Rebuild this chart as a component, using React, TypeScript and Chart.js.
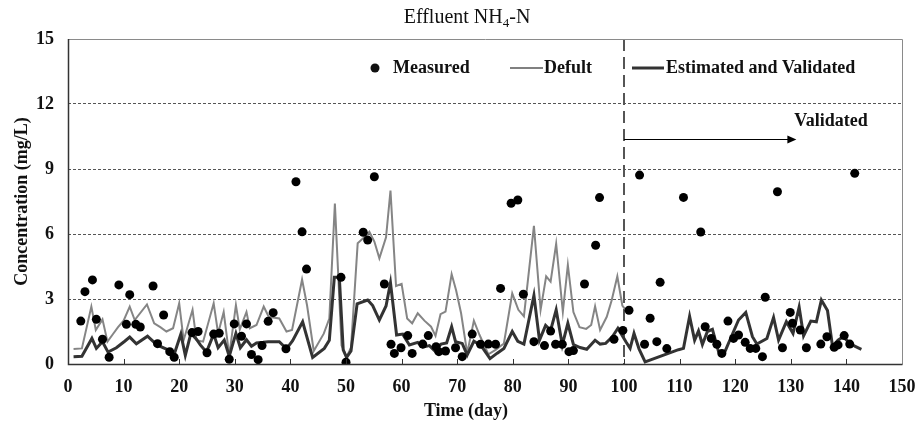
import React, { useEffect, useRef } from 'react';
import { Chart, registerables } from 'chart.js';

Chart.register(...registerables);

const defaultDays = [1, 2.5, 4.2, 5, 6.2, 7.1, 8, 9, 10, 11.1, 12, 14.2, 15.5, 16.6, 17.7, 18.9, 20, 20.8, 22.4, 23.1, 24.3, 26.2, 27, 28, 29, 30.2, 30.9, 32.1, 32.7, 33.9, 35.2, 36.1, 38, 39.3, 40.3, 42.1, 43, 44.2, 46, 47, 48, 49.2, 50.1, 50.9, 52.1, 53.5, 54.2, 55.1, 56, 57.2, 58, 59, 60, 61, 61.9, 62.9, 64.1, 65.3, 66.1, 67, 67.9, 69, 69.8, 70.7, 71.8, 73, 74, 75.6, 76.9, 78.4, 79.9, 81, 82, 83.8, 85, 86, 86.8, 87.8, 89, 89.9, 90.9, 92, 93.2, 94.1, 94.8, 95.7, 96.9, 97.8, 98.8, 99.7, 100.3];
const defaultValues = [0.69, 0.72, 2.65, 1.57, 2.06, 1.03, 1.35, 1.7, 2.0, 2.65, 2.03, 2.75, 1.88, 1.7, 1.5, 1.65, 2.8, 1.1, 2.5, 1.1, 1.03, 2.8, 1.41, 2.4, 0.4, 2.72, 1.6, 2.4, 1.65, 1.8, 2.65, 2.18, 2.1, 1.5, 1.57, 3.9, 2.7, 0.6, 1.4, 2.1, 7.4, 0.85, 0.34, 0.75, 5.57, 5.9, 6.1, 5.65, 4.88, 5.85, 8.0, 3.6, 3.7, 2.1, 1.88, 2.34, 2.0, 1.72, 1.3, 2.3, 2.42, 4.15, 3.4, 2.34, 0.5, 2.0, 1.35, 0.45, 0.65, 0.95, 3.26, 2.5, 2.2, 6.38, 2.5, 4.05, 3.8, 5.55, 2.4, 4.57, 2.4, 1.7, 1.62, 1.8, 2.66, 1.57, 2.18, 2.95, 4.05, 2.7, 2.5];

const estimatedDays = [1, 2.5, 4.3, 5.1, 6.2, 7.2, 8.7, 10.2, 11.1, 12.3, 14.3, 16, 18, 19.1, 20.3, 21.1, 22.1, 23.1, 23.8, 24.9, 26.2, 27, 28.1, 29, 30.2, 31, 32.1, 33, 33.9, 35.1, 36, 38, 39.3, 40.4, 42.2, 44, 46.1, 47, 47.9, 48.8, 49.5, 50.1, 50.9, 52, 53.9, 54.8, 56, 57.2, 58, 59.1, 60.2, 61.4, 62.9, 63.8, 65, 66, 67.1, 68.1, 69, 69.7, 70.9, 71.8, 73, 74.3, 75.9, 77.2, 78.4, 79.9, 80.9, 82, 83.8, 84.8, 85.9, 86.8, 87.8, 88.9, 89.9, 90.9, 92.1, 93.3, 94.8, 95.7, 96.7, 97.9, 98.9, 99.7, 100.4, 101.1, 101.8, 102.7, 103.8, 109.8, 110.7, 111.8, 112.7, 113.4, 114.1, 115, 115.9, 117, 117.9, 119.2, 120.6, 121.9, 123.1, 123.9, 125.7, 126.9, 127.8, 129.2, 130.4, 131.5, 132.3, 133.6, 134.6, 135.5, 136.6, 137.5, 138.5, 139.4, 140.3, 141.5, 142.7];
const estimatedValues = [0.34, 0.36, 1.18, 0.72, 1.03, 0.55, 0.75, 1.05, 1.24, 0.93, 1.28, 0.88, 0.65, 0.45, 1.38, 0.4, 1.41, 1.15, 0.88, 0.55, 1.38, 0.75, 1.1, 0.36, 1.41, 0.75, 1.12, 0.82, 0.97, 1.0, 1.03, 1.03, 0.7, 1.08, 1.95, 0.3, 0.72, 1.1, 4.0, 4.0, 0.65, 0.3, 0.6, 2.78, 2.95, 2.7, 2.03, 2.68, 3.75, 1.34, 1.38, 0.88, 1.0, 0.78, 0.85, 0.6, 0.92, 0.97, 1.72, 1.03, 0.95, 0.42, 1.05, 0.85, 0.25, 0.5, 0.72, 1.5, 1.05, 0.92, 3.16, 1.1, 1.78, 1.55, 2.5, 0.88, 1.88, 0.9, 0.76, 0.68, 1.1, 0.92, 0.95, 1.26, 1.65, 1.3, 1.0, 0.72, 1.41, 0.7, 0.1, 0.66, 0.72, 2.2, 1.1, 1.52, 0.9, 1.5, 1.6, 0.57, 0.42, 1.2, 2.03, 2.38, 1.26, 0.92, 1.18, 2.15, 1.1, 1.95, 1.41, 2.62, 1.3, 1.98, 1.95, 2.95, 2.47, 0.82, 1.1, 1.26, 1.03, 0.82, 0.68];

const measuredDays = [2.3, 3.05, 4.4, 5.1, 6.2, 7.4, 9.15, 10.5, 11.1, 12.2, 13.0, 15.3, 16.1, 17.2, 18.3, 19.1, 22.3, 23.4, 25.0, 26.2, 27.2, 29.0, 29.9, 31.2, 32.1, 33.0, 34.2, 34.9, 36.0, 36.9, 39.2, 41.0, 42.1, 42.9, 49.1, 50.0, 53.1, 53.9, 55.1, 56.9, 58.1, 58.7, 59.9, 61.1, 61.9, 63.8, 64.8, 66.2, 66.7, 67.9, 69.7, 70.9, 72.7, 74.2, 75.6, 76.9, 77.8, 79.7, 80.9, 81.9, 83.8, 85.7, 86.8, 87.7, 88.9, 90.1, 90.9, 92.9, 94.9, 95.6, 98.2, 99.8, 100.9, 102.8, 103.7, 104.7, 105.9, 106.5, 107.7, 110.7, 113.8, 114.6, 115.7, 116.7, 117.6, 118.7, 119.7, 120.6, 121.8, 122.7, 123.7, 124.9, 125.4, 127.6, 128.5, 129.9, 130.3, 131.7, 132.8, 135.4, 136.5, 137.8, 138.5, 139.6, 140.6, 141.5];
const measuredValues = [1.98, 3.34, 3.88, 2.06, 1.14, 0.31, 3.65, 1.83, 3.2, 1.83, 1.71, 3.6, 0.94, 2.26, 0.57, 0.31, 1.45, 1.5, 0.52, 1.38, 1.42, 0.22, 1.85, 1.28, 1.85, 0.44, 0.2, 0.85, 1.97, 2.37, 0.7, 8.41, 6.1, 4.38, 4.0, 0.08, 6.08, 5.72, 8.64, 3.69, 0.91, 0.49, 0.75, 1.31, 0.49, 0.92, 1.31, 0.8, 0.57, 0.6, 0.75, 0.34, 1.38, 0.91, 0.92, 0.91, 3.49, 7.42, 7.57, 3.22, 1.03, 0.85, 1.52, 0.91, 0.91, 0.57, 0.62, 3.69, 5.48, 7.68, 1.14, 1.55, 2.48, 8.72, 0.91, 2.11, 1.03, 3.77, 0.71, 7.69, 6.09, 1.72, 1.18, 0.91, 0.49, 1.98, 1.18, 1.34, 1.0, 0.72, 0.72, 0.34, 3.08, 7.95, 0.75, 2.38, 1.88, 1.57, 0.75, 0.92, 1.26, 0.77, 0.88, 1.31, 0.92, 8.8];

const xTickValues = [0, 10, 20, 30, 40, 50, 60, 70, 80, 90, 100, 110, 120, 130, 140, 150];
const yTickValues = [0, 3, 6, 9, 12, 15];
const validationStartDay = 100;
const arrowEndDay = 131;
const arrowLevel = 10.4;
const validatedLabelLevel = 11.2;

const SERIF = '"Liberation Serif", "Times New Roman", Times, serif';

function toPoints(xs: number[], ys: number[]) {
  return xs.map((x, i) => ({ x, y: ys[i] }));
}

export default function App() {
  const ref = useRef<HTMLCanvasElement>(null);

  useEffect(() => {
    document.body.style.margin = '0';
    const canvas = ref.current;
    if (!canvas) return;

    const decor = {
      id: 'decor',
      beforeDatasetsDraw(chart: any) {
        const { ctx, chartArea: a, scales } = chart;
        const x100 = scales.x.getPixelForValue(validationStartDay);
        ctx.save();
        ctx.strokeStyle = '#555';
        ctx.lineWidth = 2;
        ctx.setLineDash([12, 6]);
        ctx.beginPath();
        ctx.moveTo(x100, a.top);
        ctx.lineTo(x100, a.bottom);
        ctx.stroke();
        ctx.restore();
      },
      afterDraw(chart: any) {
        const { ctx, chartArea: a, scales } = chart;
        const sx = scales.x;
        const sy = scales.y;
        ctx.save();
        // frame
        ctx.setLineDash([]);
        ctx.lineWidth = 1;
        ctx.strokeStyle = '#8a8a8a';
        ctx.beginPath();
        ctx.moveTo(Math.round(a.left) + 0.5, Math.round(a.top) + 0.5);
        ctx.lineTo(Math.round(a.right) + 0.5, Math.round(a.top) + 0.5);
        ctx.lineTo(Math.round(a.right) + 0.5, Math.round(a.bottom) + 0.5);
        ctx.stroke();
        ctx.strokeStyle = '#333';
        ctx.lineWidth = 1.5;
        ctx.beginPath();
        ctx.moveTo(Math.round(a.left) + 0.5, Math.round(a.top));
        ctx.lineTo(Math.round(a.left) + 0.5, Math.round(a.bottom) + 0.5);
        ctx.lineTo(Math.round(a.right) + 0.5, Math.round(a.bottom) + 0.5);
        ctx.stroke();
        // x tick marks (inside)
        ctx.lineWidth = 1;
        ctx.strokeStyle = '#333';
        xTickValues.forEach((v) => {
          if (v === 0 || v === 150) return;
          const px = Math.round(sx.getPixelForValue(v)) + 0.5;
          ctx.beginPath();
          ctx.moveTo(px, a.bottom);
          ctx.lineTo(px, a.bottom - 5);
          ctx.stroke();
        });

        // arrow
        const ax0 = sx.getPixelForValue(validationStartDay);
        const ax1 = sx.getPixelForValue(arrowEndDay);
        const ay = Math.round(sy.getPixelForValue(arrowLevel)) + 0.5;
        ctx.strokeStyle = '#000';
        ctx.lineWidth = 1;
        ctx.beginPath();
        ctx.moveTo(ax0, ay);
        ctx.lineTo(ax1 - 6, ay);
        ctx.stroke();
        ctx.fillStyle = '#000';
        ctx.beginPath();
        ctx.moveTo(ax1, ay);
        ctx.lineTo(ax1 - 9, ay - 4);
        ctx.lineTo(ax1 - 9, ay + 4);
        ctx.closePath();
        ctx.fill();

        ctx.fillStyle = '#111';
        ctx.textBaseline = 'middle';
        ctx.font = `bold 18px ${SERIF}`;
        ctx.textAlign = 'left';
        ctx.fillText('Validated', sx.getPixelForValue(arrowEndDay) - 2, sy.getPixelForValue(validatedLabelLevel));

        // legend
        const ly = 68;
        ctx.beginPath();
        ctx.arc(375, ly, 4.5, 0, Math.PI * 2);
        ctx.fill();
        ctx.fillText('Measured', 393, ly);
        ctx.strokeStyle = '#808080';
        ctx.lineWidth = 2;
        ctx.beginPath();
        ctx.moveTo(510, ly);
        ctx.lineTo(543, ly);
        ctx.stroke();
        ctx.fillText('Defult', 544, ly);
        ctx.strokeStyle = '#333';
        ctx.lineWidth = 3;
        ctx.beginPath();
        ctx.moveTo(632, ly);
        ctx.lineTo(664, ly);
        ctx.stroke();
        ctx.fillText('Estimated and Validated', 666, ly);

        // axis titles
        ctx.textAlign = 'center';
        ctx.fillText('Time (day)', 466, 411);
        ctx.save();
        ctx.translate(22, (a.top + a.bottom) / 2);
        ctx.rotate(-Math.PI / 2);
        ctx.fillText('Concentration (mg/L)', 0, 0);
        ctx.restore();

        // chart title with subscript
        ctx.textBaseline = 'alphabetic';
        ctx.textAlign = 'left';
        const mainFont = `20px ${SERIF}`;
        const subFont = `13px ${SERIF}`;
        ctx.font = mainFont;
        const p1 = 'Effluent NH';
        const p3 = '-N';
        const w1 = ctx.measureText(p1).width;
        const w3 = ctx.measureText(p3).width;
        ctx.font = subFont;
        const w2 = ctx.measureText('4').width;
        const total = w1 + w2 + w3;
        let tx = 467 - total / 2;
        const base = 23;
        ctx.font = mainFont;
        ctx.fillText(p1, tx, base);
        tx += w1;
        ctx.font = subFont;
        ctx.fillText('4', tx, base + 4);
        tx += w2;
        ctx.font = mainFont;
        ctx.fillText(p3, tx, base);
        ctx.restore();
      },
    };

    const chart = new Chart(canvas, {
      type: 'line',
      data: {
        datasets: [
          {
            label: 'Measured',
            data: toPoints(measuredDays, measuredValues),
            showLine: false,
            pointRadius: 4.5,
            pointBackgroundColor: '#000',
            pointBorderColor: '#000',
            pointBorderWidth: 0,
          },
          {
            label: 'Estimated and Validated',
            data: toPoints(estimatedDays, estimatedValues),
            borderColor: '#333333',
            borderWidth: 3,
            pointRadius: 0,
            tension: 0,
            fill: false,
          },
          {
            label: 'Defult',
            data: toPoints(defaultDays, defaultValues),
            borderColor: '#858585',
            borderWidth: 2,
            pointRadius: 0,
            tension: 0,
            fill: false,
          },
        ],
      },
      options: {
        animation: false,
        responsive: false,
        events: [],
        layout: { padding: { top: 39, right: 17, left: 0, bottom: 0 } },
        plugins: {
          legend: { display: false },
          tooltip: { enabled: false },
          title: { display: false },
        },
        scales: {
          x: {
            type: 'linear',
            min: 0,
            max: 150,
            afterBuildTicks: (s: any) => {
              s.ticks = xTickValues.map((v) => ({ value: v }));
            },
            afterFit: (s: any) => {
              s.height = 63;
              s.paddingLeft = 0;
              s.paddingRight = 0;
              s.paddingTop = 0;
              s.paddingBottom = 0;
            },
            grid: { display: false, drawTicks: false },
            border: { display: false },
            ticks: {
              color: '#111',
              font: { family: SERIF, size: 18, weight: 'bold' },
              padding: 13,
              maxRotation: 0,
              autoSkip: false,
            },
          },
          y: {
            type: 'linear',
            min: 0,
            max: 15,
            afterBuildTicks: (s: any) => {
              s.ticks = yTickValues.map((v) => ({ value: v }));
            },
            afterFit: (s: any) => {
              s.width = 68;
              s.paddingTop = 0;
              s.paddingBottom = 0;
              s.paddingLeft = 0;
              s.paddingRight = 0;
            },
            grid: {
              drawTicks: false,
              lineWidth: 1,
              color: (c: any) =>
                c.tick && (c.tick.value === 0 || c.tick.value === 15) ? 'rgba(0,0,0,0)' : '#555',
            },
            border: { display: false, dash: [3, 2] },
            ticks: {
              color: '#111',
              font: { family: SERIF, size: 18, weight: 'bold' },
              padding: 14,
              autoSkip: false,
            },
          },
        },
      },
      plugins: [decor],
    } as any);

    return () => chart.destroy();
  }, []);

  return <canvas ref={ref} width={919} height={427} style={{ display: 'block' }} />;
}
